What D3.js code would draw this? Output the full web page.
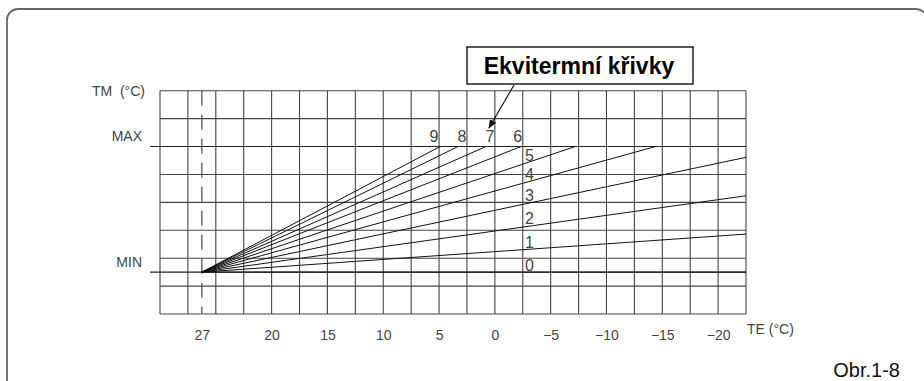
<!DOCTYPE html>
<html>
<head>
<meta charset="utf-8">
<script src="https://cdn.jsdelivr.net/npm/d3@7"></script>
<style>
  body { margin: 0; background: #fff; }
  text { font-family: "Liberation Sans", Arial, sans-serif; }
</style>
</head>
<body>
<div class="chart"></div>
<script>
// TE ticks (outdoor temp, °C)
const teTicks = [27, 20, 15, 10, 5, 0, -5, -10, -15, -20];
// curve ids and where each one ends: TE end, TM end (0 = MIN, 100 = MAX)
const curveIds = [0, 1, 2, 3, 4, 5, 6, 7, 8, 9];
const curveEndTE = [-22.5, -22.5, -22.5, -22.5, -14.4, -7.2, -2.35, 0.8, 3.3, 4.9];
const curveEndTM = [0, 30.3, 60.8, 91.4, 100, 100, 100, 100, 100, 100];
const startTE = 27;

const outerWidth = 924, outerHeight = 381;

const svg = d3.select(".chart").append("svg")
  .attr("width", outerWidth)
  .attr("height", outerHeight);

// frame
svg.append("rect")
  .attr("x", 7).attr("y", 9)
  .attr("width", 920).attr("height", 420)
  .attr("rx", 11)
  .attr("fill", "none")
  .attr("stroke", "#666")
  .attr("stroke-width", 1.8);

// grid lattice: 21 columns x 8 rows
const nCols = 21, nRows = 8;
const gx = d3.scaleLinear().domain([0, nCols]).range([160, 746]);
const gy = d3.scaleLinear().domain([0, nRows]).range([90.7, 314]);

// TE scale, piecewise so the ticks land on the drawing's columns
const x = d3.scaleLinear()
  .domain([27, 20, -22.5])
  .range([gx(1.5), gx(4), gx(21)]);
// TM scale, MIN..MAX as 0..100
const y = d3.scaleLinear().domain([0, 100]).range([gy(6.5), gy(2)]);

const grid = svg.append("g").attr("stroke", "#444").attr("stroke-width", 1.1);
grid.selectAll(".v").data(d3.range(nCols + 1)).enter().append("line")
  .attr("x1", d => gx(d)).attr("x2", d => gx(d))
  .attr("y1", gy(0)).attr("y2", gy(nRows));
grid.selectAll(".h").data(d3.range(nRows + 1)).enter().append("line")
  .attr("x1", gx(0)).attr("x2", gx(nCols))
  .attr("y1", d => gy(d)).attr("y2", d => gy(d));

// MIN / MAX lines, running out to the left
const levels = [{name: "MAX", v: 100}, {name: "MIN", v: 0}];
svg.selectAll(".lvl").data(levels).enter().append("line")
  .attr("x1", 150).attr("x2", gx(nCols))
  .attr("y1", d => y(d.v)).attr("y2", d => y(d.v))
  .attr("stroke", "#222").attr("stroke-width", 1.1);
svg.selectAll(".lvlLabel").data(levels).enter().append("text")
  .attr("x", 142).attr("y", d => y(d.v) - 10)
  .attr("dy", "0.35em")
  .attr("text-anchor", "end")
  .attr("font-size", 14).attr("fill", "#444")
  .text(d => d.name);

// dashed line at TE 27
svg.append("line")
  .attr("x1", x(startTE)).attr("x2", x(startTE))
  .attr("y1", gy(0)).attr("y2", gy(nRows))
  .attr("stroke", "#555").attr("stroke-width", 1.3)
  .attr("stroke-dasharray", "15,9");

// curves
const curves = curveIds.map((id, i) => ({
  id: id,
  pts: [[startTE, 0], [curveEndTE[i], curveEndTM[i]]]
}));
const line = d3.line().x(d => x(d[0])).y(d => y(d[1]));
svg.selectAll(".curve").data(curves).enter().append("path")
  .attr("d", d => line(d.pts))
  .attr("fill", "none")
  .attr("stroke", "#111")
  .attr("stroke-width", 1);

// curve labels: 6-9 left of the grid column nearest their end on MAX, 0-5 along TE = -3
const labelTE = -3;
svg.selectAll(".clabel").data(curves).enter().append("text")
  .attr("x", d => d.id >= 6 ? gx(Math.round(gx.invert(x(d.pts[1][0])))) - 5 : x(labelTE) + 1)
  .attr("y", d => {
    if (d.id >= 6) return y(100) - 10;
    const p = d.pts, t = (labelTE - p[0][0]) / (p[1][0] - p[0][0]);
    return y(p[0][1] + t * (p[1][1] - p[0][1])) - 7;
  })
  .attr("dy", "0.35em")
  .attr("text-anchor", "middle")
  .attr("font-size", 16).attr("fill", "#444")
  .text(d => d.id);

// TE axis
const xAxis = d3.axisBottom(x).tickValues(teTicks).tickSize(0);
const ax = svg.append("g")
  .attr("transform", `translate(0, ${gy(nRows)})`)
  .call(xAxis);
ax.select(".domain").remove();
ax.selectAll("text")
  .attr("y", 21).attr("dy", "0.35em")
  .attr("font-size", 14).attr("fill", "#444")
  .attr("font-family", "Liberation Sans, Arial, sans-serif");

svg.append("text")
  .attr("x", 747).attr("y", 329).attr("dy", "0.35em")
  .attr("font-size", 14).attr("fill", "#444")
  .text("TE (°C)");
svg.append("text")
  .attr("x", 145).attr("y", gy(0)).attr("dy", "0.35em")
  .attr("text-anchor", "end")
  .attr("font-size", 14).attr("fill", "#444")
  .attr("xml:space", "preserve")
  .text("TM  (°C)");

// title box with arrow
svg.append("defs").append("marker")
  .attr("id", "arr").attr("viewBox", "0 0 10 10")
  .attr("refX", 9).attr("refY", 5)
  .attr("markerWidth", 9).attr("markerHeight", 9)
  .attr("orient", "auto").attr("markerUnits", "userSpaceOnUse")
  .append("path").attr("d", "M0,1 L10,5 L0,9 Z").attr("fill", "#111");

svg.append("line")
  .attr("x1", 514).attr("y1", 85)
  .attr("x2", 489).attr("y2", 128)
  .attr("stroke", "#111").attr("stroke-width", 1.2)
  .attr("marker-end", "url(#arr)");

svg.append("rect")
  .attr("x", 467).attr("y", 47)
  .attr("width", 226).attr("height", 37)
  .attr("fill", "#fff").attr("stroke", "#111").attr("stroke-width", 1.4);
svg.append("text")
  .attr("x", 579).attr("y", 74)
  .attr("text-anchor", "middle")
  .attr("font-size", 23).attr("font-weight", "bold").attr("fill", "#000")
  .text("Ekvitermní křivky");

svg.append("text")
  .attr("x", 900).attr("y", 377)
  .attr("text-anchor", "end")
  .attr("font-size", 20).attr("fill", "#111")
  .text("Obr.1-8");
</script>
</body>
</html>
